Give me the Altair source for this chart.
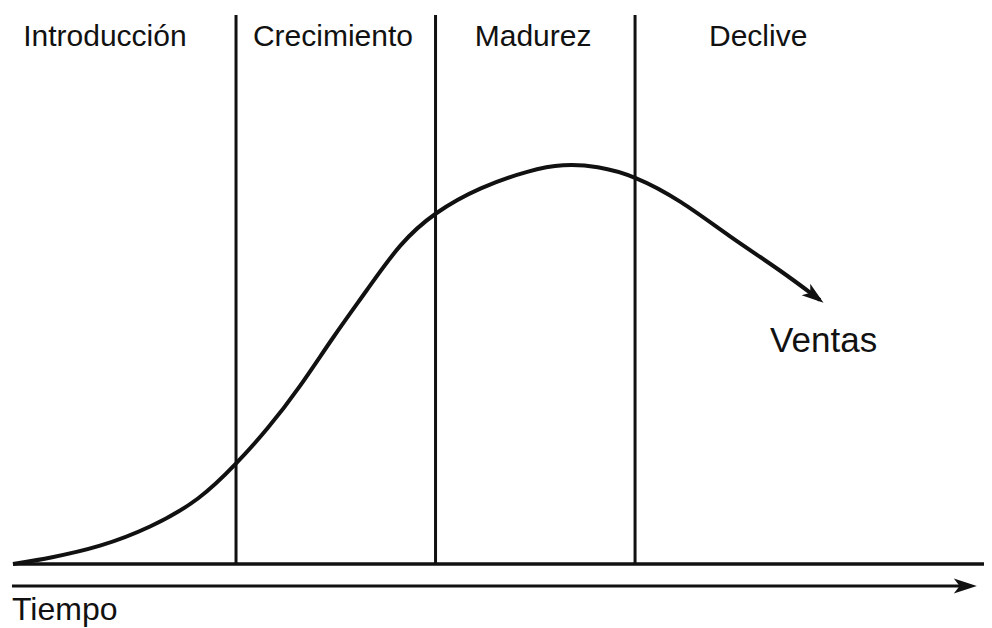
import math
import altair as alt
import pandas as pd

# --- data (time in stage units, sales in % of peak) ---
tiempo = [-0.118, 0.068, 0.318, 0.569, 0.820, 1.005, 1.155, 1.321, 1.486, 1.657,
          1.822, 1.997, 2.223, 2.474, 2.639, 2.810, 3.000, 3.226, 3.476, 3.727, 3.927]
ventas = [0.0, 1.5, 4.25, 9.0, 16.0, 25.25, 33.5, 44.25, 56.75, 68.5,
          80.25, 88.0, 94.25, 98.5, 100.0, 99.5, 97.0, 91.0, 81.75, 73.5, 66.0]

etapas = ["Introducción", "Crecimiento", "Madurez", "Declive"]
etapas_t = [0.343, 1.486, 2.489, 3.617]
limites = [1, 2, 3]
techo = 137.25
eje_t = [-0.123, 4.669]
eje_flecha_t = 4.69
eje_v = -5.5
base_t = [-0.118, 4.79]
ventas_pos = (3.677, 53.0)
tiempo_pos = (-0.123, -14.0)

X_DOM = [-0.1429, 4.749]
Y_DOM = [-16, 139]
W, H = 976, 620
INK = "#111111"
FONT = "Liberation Sans"

xs = alt.Scale(domain=X_DOM, nice=False, zero=False)
ys = alt.Scale(domain=Y_DOM, nice=False, zero=False)
X = lambda f="t": alt.X(f"{f}:Q", scale=xs, axis=None)
Y = lambda f="v": alt.Y(f"{f}:Q", scale=ys, axis=None)

head = "M0,-0.4L0.65,1.6L0,1.1L-0.65,1.6Z"

# baseline
base = alt.Chart(pd.DataFrame({"t": [base_t[0]], "t2": [base_t[1]], "v": [0.0]})).mark_rule(
    color=INK, strokeWidth=3.5).encode(x=X(), x2="t2:Q", y=Y())

# stage separators
sep = alt.Chart(pd.DataFrame({"t": limites, "v": [0.0] * 3, "v2": [techo] * 3})).mark_rule(
    color=INK, strokeWidth=3).encode(x=X(), y=Y(), y2="v2:Q")

# time arrow
eje = alt.Chart(pd.DataFrame({"t": [eje_t[0]], "t2": [eje_t[1]], "v": [eje_v]})).mark_rule(
    color=INK, strokeWidth=3).encode(x=X(), x2="t2:Q", y=Y())
eje_head = alt.Chart(pd.DataFrame({"t": [eje_flecha_t], "v": [eje_v]})).mark_point(
    shape=head, size=529, filled=True, opacity=1, color=INK, strokeWidth=0, angle=90
).encode(x=X(), y=Y())

# sales curve
df = pd.DataFrame({"t": tiempo, "v": ventas})
curva = alt.Chart(df).mark_line(color=INK, strokeWidth=4, interpolate="basis").encode(
    x=X(), y=Y(), order="t:Q")

kx = W / (X_DOM[1] - X_DOM[0])
ky = H / (Y_DOM[1] - Y_DOM[0])
dx = (tiempo[-1] - tiempo[-2]) * kx
dy = (ventas[-2] - ventas[-1]) * ky
ang = (90 + math.degrees(math.atan2(dy, dx))) % 360
curva_head = alt.Chart(pd.DataFrame({"t": [tiempo[-1]], "v": [ventas[-1]]})).mark_point(
    shape=head, size=484, filled=True, opacity=1, color=INK, strokeWidth=0, angle=ang
).encode(x=X(), y=Y())

# stage labels
lab = alt.Chart(pd.DataFrame({"t": etapas_t, "etapa": etapas})).mark_text(
    font=FONT, fontSize=30, color=INK, align="center", baseline="alphabetic"
).encode(x=X(), y=alt.value(38), text="etapa:N")

ventas_lab = alt.Chart(pd.DataFrame({"t": [ventas_pos[0]], "v": [ventas_pos[1]], "s": ["Ventas"]})).mark_text(
    font=FONT, fontSize=35, color=INK, align="left", baseline="alphabetic"
).encode(x=X(), y=Y(), text="s:N")

tiempo_lab = alt.Chart(pd.DataFrame({"t": [tiempo_pos[0]], "v": [tiempo_pos[1]], "s": ["Tiempo"]})).mark_text(
    font=FONT, fontSize=32, color=INK, align="left", baseline="alphabetic"
).encode(x=X(), y=Y(), text="s:N")

chart = alt.layer(base, sep, eje, eje_head, curva, curva_head, lab, ventas_lab, tiempo_lab).properties(
    width=W, height=H, autosize=alt.AutoSizeParams(type="none"), padding=0
).configure_view(stroke=None)

chart.save("out.html", embed_options={"renderer": "svg", "actions": False})
